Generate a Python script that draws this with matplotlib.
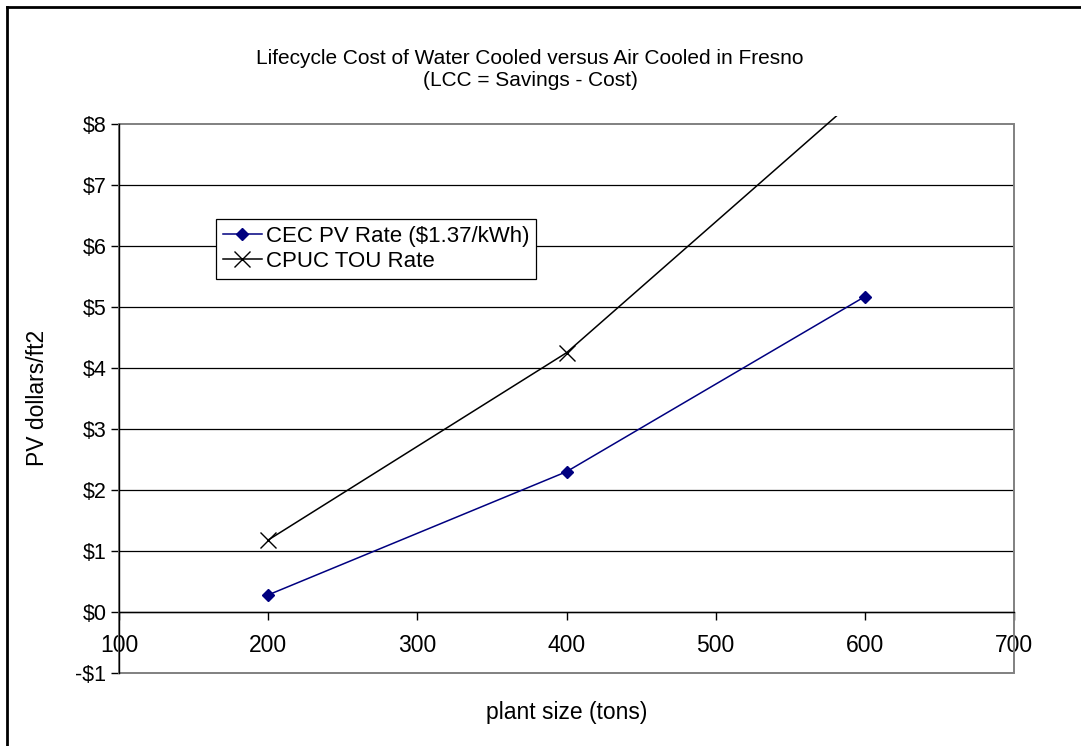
import matplotlib
matplotlib.use("Agg")
import matplotlib.pyplot as plt
from matplotlib.patches import Rectangle
from matplotlib.lines import Line2D

plt.rcParams['font.family'] = ['Liberation Sans', 'DejaVu Sans']

plant_size = [200, 400, 600]
cec_pv_rate = [0.28, 2.30, 5.17]
cpuc_tou_rate = [1.18, 4.25, 8.54]

x_ticks = [100, 200, 300, 400, 500, 600, 700]
y_ticks = [-1, 0, 1, 2, 3, 4, 5, 6, 7, 8]
y_tick_labels = ['-$1', '$0', '$1', '$2', '$3', '$4', '$5', '$6', '$7', '$8']

W, H = 1081, 746
fig = plt.figure(figsize=(W / 100, H / 100), dpi=100)
ax = fig.add_axes([119 / W, (H - 673) / H, 895 / W, 549 / H])
ax.set_xlim(100, 700)
ax.set_ylim(-1, 8)

# horizontal gridlines
for v in y_ticks[1:-1]:
    ax.axhline(v, color='black', lw=0.9, zorder=1)

# plot-area border in grey
ax.add_patch(Rectangle((0, 0), 1, 1, transform=ax.transAxes, fill=False,
                       edgecolor='#808080', lw=1.4, zorder=2, clip_on=False))

for s in ['top', 'right']:
    ax.spines[s].set_visible(False)
ax.spines['left'].set_color('black')
ax.spines['left'].set_linewidth(1.0)
ax.spines['bottom'].set_position(('data', 0))
ax.spines['bottom'].set_color('black')
ax.spines['bottom'].set_linewidth(1.0)

ax.set_xticks(x_ticks)
ax.set_xticklabels([str(t) for t in x_ticks])
ax.set_yticks(y_ticks)
ax.set_yticklabels(y_tick_labels)
ax.tick_params(axis='x', direction='out', length=6, width=1.0, pad=10,
               labelsize=16.5, colors='black')
ax.tick_params(axis='y', direction='out', length=6, width=1.0, pad=3,
               labelsize=15.5, colors='black')

clip = Rectangle((0, 0), 1, 1 + 8 / 549, transform=ax.transAxes)

l1, = ax.plot(plant_size, cec_pv_rate, color='#000080', lw=1.1, marker='D',
              markersize=6, label='CEC PV Rate ($1.37/kWh)', zorder=4)
l2, = ax.plot(plant_size, cpuc_tou_rate, color='black', lw=1.1, marker='x',
              markersize=12, markeredgewidth=1.0, label='CPUC TOU Rate', zorder=4)
for ln in (l1, l2):
    ln.set_clip_path(clip)

leg = ax.legend(loc='upper left', bbox_to_anchor=(97 / 895, (673 - 219) / 549),
                borderaxespad=0, fontsize=16, frameon=True, fancybox=False,
                framealpha=1, edgecolor='black', handlelength=1.75,
                handletextpad=0.2, borderpad=0.3, labelspacing=0.2)
leg.get_frame().set_linewidth(0.9)
leg.set_zorder(5)

fig.text(530 / W, 1 - 58 / H, 'Lifecycle Cost of Water Cooled versus Air Cooled in Fresno',
         ha='center', va='center', fontsize=15)
fig.text(530 / W, 1 - 80 / H, '(LCC = Savings - Cost)', ha='center', va='center',
         fontsize=15)
fig.text(38 / W, 1 - 398 / H, 'PV dollars/ft2', rotation=90, ha='center', va='center',
         fontsize=16.5)
fig.text(567 / W, 1 - 712 / H, 'plant size (tons)', ha='center', va='center',
         fontsize=16.5)

# chart border (left and top edges)
fig.add_artist(Line2D([7 / W, 7 / W], [0, 1 - 7 / H], transform=fig.transFigure,
                      color='black', lw=2))
fig.add_artist(Line2D([7 / W, 1], [1 - 7 / H, 1 - 7 / H], transform=fig.transFigure,
                      color='black', lw=2))

fig.savefig('out.png', dpi=100, facecolor='white')
